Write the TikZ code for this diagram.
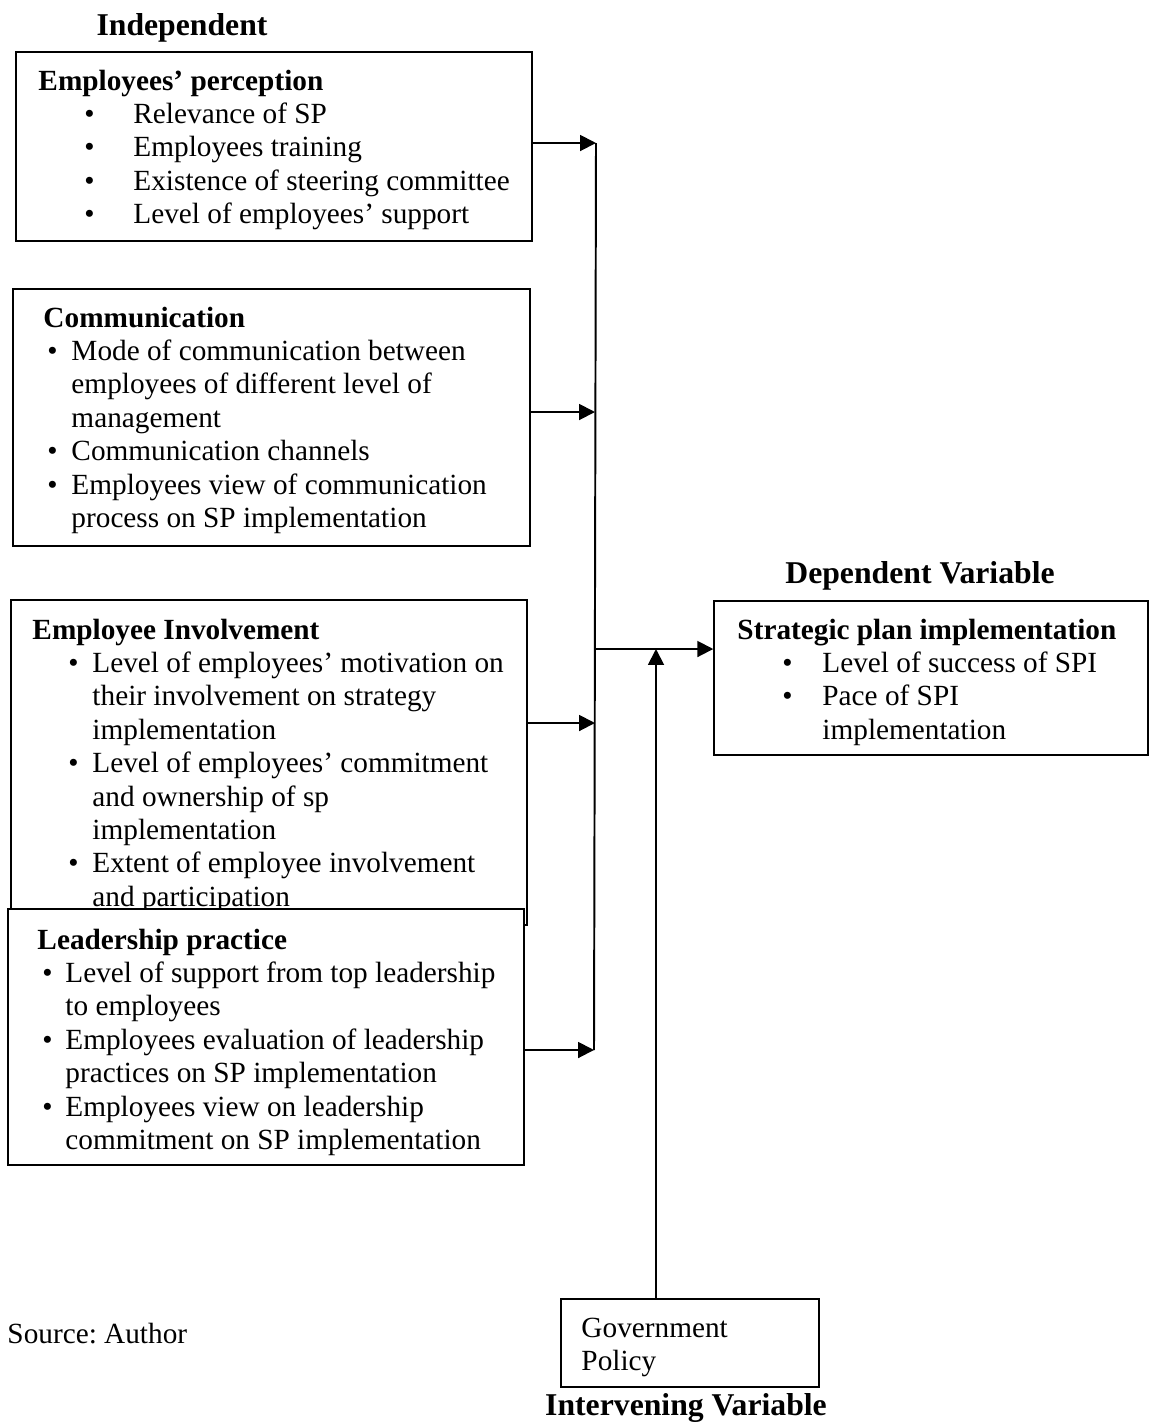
\documentclass[tikz,border=0pt]{standalone}
\usepackage{fontspec}
\setmainfont{Liberation Serif}
\usetikzlibrary{arrows.meta,fit}
\newdimen\pxu \pxu=0.41pt
\newcommand\bitem[3]{\hspace*{#1\pxu}\makebox[0pt]{•}\hspace*{#2\pxu}#3}
\newcommand\cont[2]{\hspace*{#1\pxu}#2}
\frenchspacing
\begin{document}
\begin{tikzpicture}[x=0.41pt,y=-0.41pt,
  box/.style={draw, line width=0.6pt, inner sep=0pt, fill=white},
  txt/.style={inner sep=0pt, anchor=base west, font=\fontsize{12}{13.7}\selectfont},
  ttl/.style={inner sep=0pt, anchor=base, font=\fontsize{13}{15}\selectfont\bfseries},
  arr/.style={line width=0.8pt, -{Triangle[length=6.5pt,width=6.5pt]}},
  ln/.style={line width=0.8pt}]
\useasboundingbox (0,0) rectangle (1150,1422);

% titles
\node[ttl] (tind) at (182,35) {Independent};
\node[ttl] (tdep) at (920,583) {Dependent Variable};
\node[ttl] (tint) at (686,1415) {Intervening Variable};

% box 1
\node[box, fit={(16,52) (532,241)}] (b1) {};
\node[txt] (t1) at (38,90) {\begin{tabular}[t]{@{}l@{}}
\textbf{Employees’ perception}\\
\bitem{51}{44}{Relevance of SP}\\
\bitem{51}{44}{Employees training}\\
\bitem{51}{44}{Existence of steering committee}\\
\bitem{51}{44}{Level of employees’ support}
\end{tabular}};

% box 2
\node[box, fit={(13,289) (530,546)}] (b2) {};
\node[txt] (t2) at (43,327) {\begin{tabular}[t]{@{}l@{}}
\textbf{Communication}\\
\bitem{9}{19}{Mode of communication between}\\
\cont{28}{employees of different level of}\\
\cont{28}{management}\\
\bitem{9}{19}{Communication channels}\\
\bitem{9}{19}{Employees view of communication}\\
\cont{28}{process on SP implementation}
\end{tabular}};

% box 3
\node[box, fit={(11,600) (527,925)}] (b3) {};
\node[txt] (t3) at (32,639) {\begin{tabular}[t]{@{}l@{}}
\textbf{Employee Involvement}\\
\bitem{41}{19}{Level of employees’ motivation on}\\
\cont{60}{their involvement on strategy}\\
\cont{60}{implementation}\\
\bitem{41}{19}{Level of employees’ commitment}\\
\cont{60}{and ownership of sp}\\
\cont{60}{implementation}\\
\bitem{41}{19}{Extent of employee involvement}\\
\cont{60}{and participation}
\end{tabular}};

% box 4 (drawn over box 3)
\node[box, fit={(8,909) (524,1165)}] (b4) {};
\node[txt] (t4) at (37,949) {\begin{tabular}[t]{@{}l@{}}
\textbf{Leadership practice}\\
\bitem{10}{18}{Level of support from top leadership}\\
\cont{28}{to employees}\\
\bitem{10}{18}{Employees evaluation of leadership}\\
\cont{28}{practices on SP implementation}\\
\bitem{10}{18}{Employees view on leadership}\\
\cont{28}{commitment on SP implementation}
\end{tabular}};

% box 5
\node[box, fit={(714,601) (1148,755)}] (b5) {};
\node[txt] (t5) at (737,639) {\begin{tabular}[t]{@{}l@{}}
\textbf{Strategic plan implementation}\\
\bitem{50}{35}{Level of success of SPI}\\
\bitem{50}{35}{Pace of SPI}\\
\cont{85}{implementation}
\end{tabular}};

% government policy
\node[box, fit={(561,1299) (819,1387)}] (gov) {};
\node[txt, font=\fontsize{12}{13.7}\selectfont] (tgov) at (581,1337) {\begin{tabular}[t]{@{}l@{}}
Government\\
Policy
\end{tabular}};

% source
\node[txt] (src) at (7,1343) {Source: Author};

% connectors
\coordinate (j1) at (596,143);
\coordinate (j2) at (595,412);
\coordinate (j3) at (595,723);
\coordinate (j4) at (594,1050);
\coordinate (jm) at (595,649);
\coordinate (gm) at (656,649);

\draw[ln] (j1) -- (j4);
\draw[arr] (b1.east |- j1) -- (j1);
\draw[arr] (b2.east |- j2) -- (j2);
\draw[arr] (b3.east |- j3) -- (j3);
\draw[arr] (b4.east |- j4) -- (j4);
\draw[arr] (jm) -- (b5.west |- jm);
\draw[arr] (gov.north -| gm) -- (gm);
\end{tikzpicture}
\end{document}
